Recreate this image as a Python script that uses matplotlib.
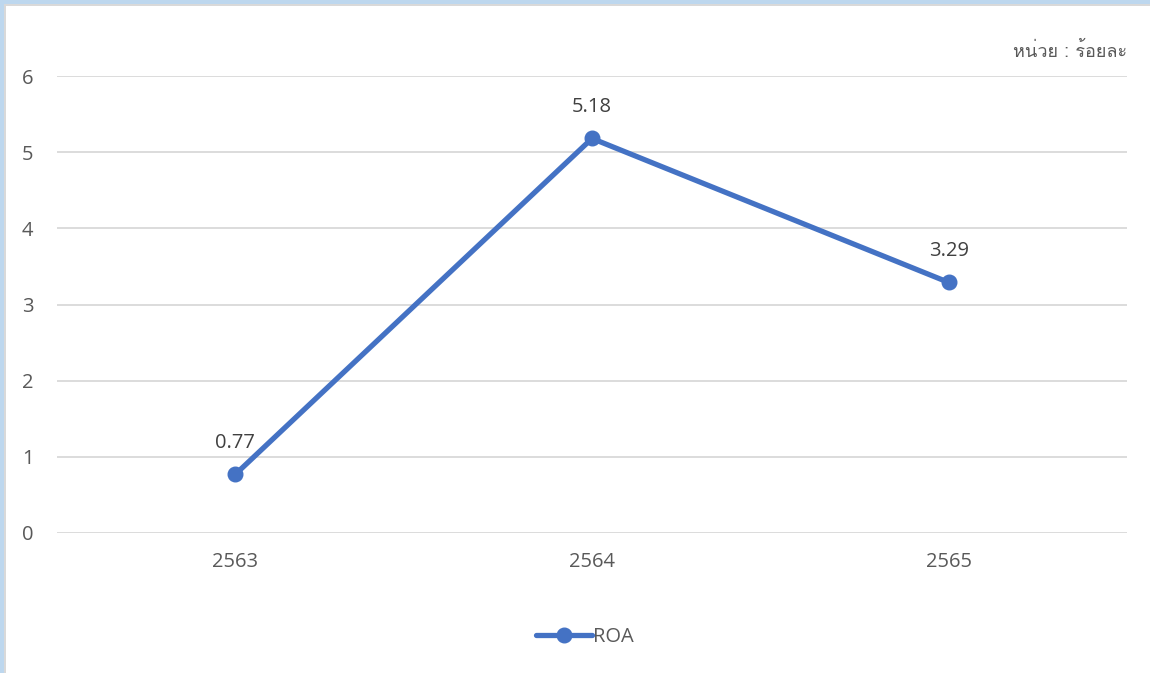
import matplotlib
matplotlib.use("Agg")
import matplotlib.pyplot as plt
from matplotlib import font_manager as fm
from matplotlib.ft2font import FT2Font
from matplotlib.patches import Rectangle

# ---- data ----
years = ["2563", "2564", "2565"]
roa = [0.77, 5.18, 3.29]
roa_labels = ["0.77", "5.18", "3.29"]
yticks = [0, 1, 2, 3, 4, 5, 6]
series_name = "ROA"
unit_text = "หน่วย : ร้อยละ"

# ---- find a font with Thai glyphs ----
thai_family = None
for f in fm.fontManager.ttflist:
    try:
        if ord("ห") in FT2Font(f.fname).get_charmap():
            thai_family = f.name
            break
    except Exception:
        pass

base_font = "Open Sans"
plt.rcParams["font.family"] = [base_font, "DejaVu Sans"]
text_color = "#595959"
line_color = "#4472C4"

fig = plt.figure(figsize=(11.5, 6.73), dpi=100)
fig.patch.set_facecolor("white")

# border: light blue strip left & top with thin gray inner line
fig.add_artist(Rectangle((0, 0), 4 / 1150, 1, transform=fig.transFigure,
                         facecolor="#BDD7EE", edgecolor="none", zorder=0))
fig.add_artist(Rectangle((0, 1 - 4 / 673), 1, 4 / 673, transform=fig.transFigure,
                         facecolor="#BDD7EE", edgecolor="none", zorder=0))
fig.add_artist(Rectangle((4 / 1150, 0), 1.5 / 1150, 1 - 4 / 673, transform=fig.transFigure,
                         facecolor="#D9D9D9", edgecolor="none", zorder=0))
fig.add_artist(Rectangle((4 / 1150, 1 - 5.5 / 673), 1, 1.5 / 673, transform=fig.transFigure,
                         facecolor="#D9D9D9", edgecolor="none", zorder=0))

ax = fig.add_axes([57 / 1150, 140 / 673, (1127 - 57) / 1150, (533 - 76) / 673])
x = list(range(len(years)))
ax.plot(x, roa, color=line_color, linewidth=3.8, marker="o", markersize=10.5,
        solid_capstyle="round", label=series_name, zorder=3)

for xi, yi, lab in zip(x, roa, roa_labels):
    ax.annotate(lab, (xi, yi), xytext=(0, 22.5), textcoords="offset points",
                ha="center", va="center", fontsize=14.5, color="#404040")

ax.set_xlim(-0.5, len(years) - 0.5)
ax.set_ylim(0, 6)
ax.set_yticks(yticks)
ax.set_yticklabels([str(t) for t in yticks])
ax.set_xticks(x)
ax.set_xticklabels(years)
ax.tick_params(axis="both", length=0, labelsize=14.5, labelcolor=text_color)
ax.tick_params(axis="x", pad=14)
for lab in ax.get_yticklabels():
    lab.set_horizontalalignment("center")
ax.tick_params(axis="y", pad=21)
ax.grid(axis="y", color="#D9D9D9", linewidth=1.3)
ax.set_axisbelow(True)
for s in ax.spines.values():
    s.set_visible(False)

fam = [thai_family, base_font, "DejaVu Sans"] if thai_family else [base_font, "DejaVu Sans"]
fig.text(1127 / 1150, 1 - 51 / 673, unit_text, ha="right", va="center",
         fontsize=13, color=text_color, family=fam)

leg = fig.legend(handles=ax.get_lines(), loc="center", bbox_to_anchor=(585 / 1150, 1 - 637 / 673),
                 frameon=False, fontsize=14.5, handlelength=2.8, handletextpad=0.05,
                 labelcolor=text_color)

fig.savefig("out.png", dpi=100, facecolor="white")
